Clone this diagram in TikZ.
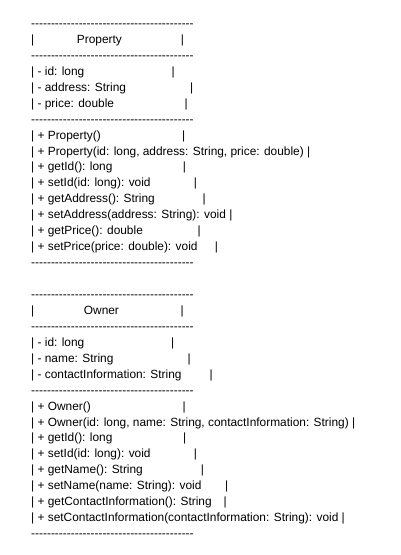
\documentclass[tikz,border=0pt]{standalone}
\usepackage{fontspec}
\newfontfamily\rowfont{Liberation Sans}
\begin{document}
\begin{tikzpicture}[x=1pt, y=-1pt, txt/.style={anchor=base west, inner sep=0pt, font=\rowfont\fontsize{11.9}{14}\selectfont}]
\useasboundingbox (0,0) rectangle (401,555);
% Property box
\node[txt] (pd0) at (31, 27.5) {-----------------------------------------};
\node[txt] (ptl) at (31, 43.44) {|};
\node[txt] (ptitle) at (76.7, 43.44) {Property};
\node[txt] (ptr) at (180.7, 43.44) {|};
\node[txt] (pd1) at (31, 59.38) {-----------------------------------------};
\node[txt] (pa1) at (31, 75.32) {| - id: long};
\node[txt] (pa1b) at (171.4, 75.32) {|};
\node[txt] (pa2) at (31, 91.26) {| - address: String};
\node[txt] (pa2b) at (190.0, 91.26) {|};
\node[txt] (pa3) at (31, 107.2) {| - price: double};
\node[txt] (pa3b) at (184.4, 107.2) {|};
\node[txt] (pd2) at (31, 123.14) {-----------------------------------------};
\node[txt] (pm1) at (31, 139.08) {| + Property()};
\node[txt] (pm1b) at (182.0, 139.08) {|};
\node[txt] (pm2) at (31, 155.02) {| + Property(id: long, address: String, price: double) |};
\node[txt] (pm3) at (31, 170.96) {| + getId(): long};
\node[txt] (pm3b) at (182.7, 170.96) {|};
\node[txt] (pm4) at (31, 186.9) {| + setId(id: long): void};
\node[txt] (pm4b) at (193.7, 186.9) {|};
\node[txt] (pm5) at (31, 202.84) {| + getAddress(): String};
\node[txt] (pm5b) at (202.4, 202.84) {|};
\node[txt] (pm6) at (31, 218.78) {| + setAddress(address: String): void |};
\node[txt] (pm7) at (31, 234.72) {| + getPrice(): double};
\node[txt] (pm7b) at (197.4, 234.72) {|};
\node[txt] (pm8) at (31, 250.66) {| + setPrice(price: double): void};
\node[txt] (pm8b) at (214.7, 250.66) {|};
\node[txt] (pd3) at (31, 266.6) {-----------------------------------------};
% Owner box
\node[txt] (od0) at (31, 298.48) {-----------------------------------------};
\node[txt] (otl) at (31, 314.42) {|};
\node[txt] (otitle) at (83.7, 314.42) {Owner};
\node[txt] (otr) at (180.4, 314.42) {|};
\node[txt] (od1) at (31, 330.36) {-----------------------------------------};
\node[txt] (oa1) at (31, 346.3) {| - id: long};
\node[txt] (oa1b) at (171.0, 346.3) {|};
\node[txt] (oa2) at (31, 362.24) {| - name: String};
\node[txt] (oa2b) at (187.4, 362.24) {|};
\node[txt] (oa3) at (31, 378.18) {| - contactInformation: String};
\node[txt] (oa3b) at (209.4, 378.18) {|};
\node[txt] (od2) at (31, 394.12) {-----------------------------------------};
\node[txt] (om1) at (31, 410.06) {| + Owner()};
\node[txt] (om1b) at (182.4, 410.06) {|};
\node[txt] (om2) at (31, 426.0) {| + Owner(id: long, name: String, contactInformation: String) |};
\node[txt] (om3) at (31, 441.94) {| + getId(): long};
\node[txt] (om3b) at (183.0, 441.94) {|};
\node[txt] (om4) at (31, 457.88) {| + setId(id: long): void};
\node[txt] (om4b) at (193.7, 457.88) {|};
\node[txt] (om5) at (31, 473.82) {| + getName(): String};
\node[txt] (om5b) at (200.7, 473.82) {|};
\node[txt] (om6) at (31, 489.76) {| + setName(name: String): void};
\node[txt] (om6b) at (225.0, 489.76) {|};
\node[txt] (om7) at (31, 505.7) {| + getContactInformation(): String};
\node[txt] (om7b) at (223.4, 505.7) {|};
\node[txt] (om8) at (31, 521.64) {| + setContactInformation(contactInformation: String): void |};
\node[txt] (od3) at (31, 537.58) {-----------------------------------------};
\end{tikzpicture}
\end{document}
